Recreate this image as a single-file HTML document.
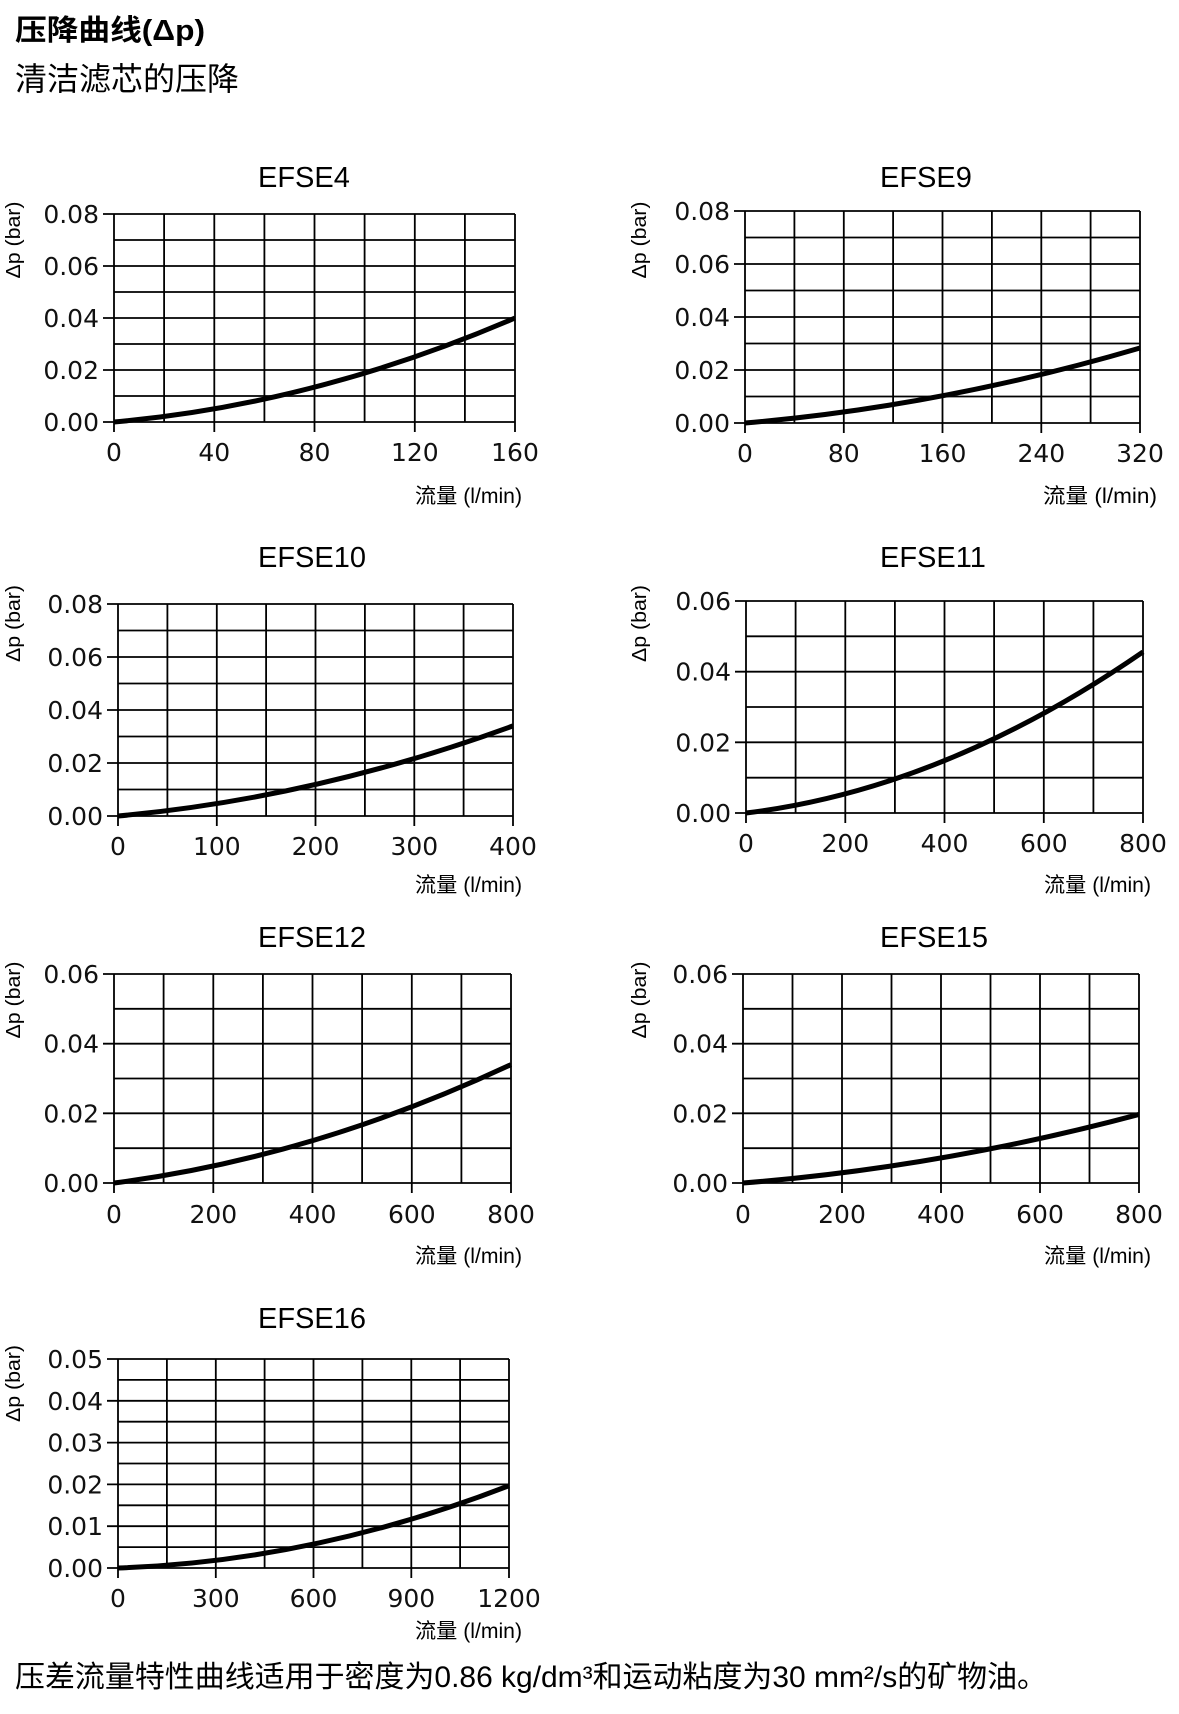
<!DOCTYPE html>
<html>
<head>
<meta charset="utf-8">
<style>
html,body{margin:0;padding:0;background:#fff;}
svg{display:block;}
.t{font-family:"Liberation Sans",sans-serif;font-size:29px;fill:#000;}
.n{font-family:"DejaVu Sans",sans-serif;font-size:25px;fill:#111;}
.a{font-family:"Liberation Sans",sans-serif;font-size:20px;fill:#000;}
.q{font-family:"Liberation Sans","Noto Sans CJK SC",sans-serif;font-size:21px;fill:#000;}
.g{fill:none;stroke:#000;stroke-width:1.8;}
.c{fill:none;stroke:#000;stroke-width:5;}
</style>
</head>
<body>
<svg width="1179" height="1714" viewBox="0 0 1179 1714" xmlns="http://www.w3.org/2000/svg">
<rect width="1179" height="1714" fill="#fff"/>

<!-- Header -->
<text x="15" y="40" font-family="Liberation Sans, Noto Sans CJK SC, sans-serif" font-size="29" font-weight="bold" textLength="190" lengthAdjust="spacingAndGlyphs">压降曲线(Δp)</text>
<text x="15" y="90" font-family="Liberation Sans, Noto Sans CJK SC, sans-serif" font-size="32">清洁滤芯的压降</text>

<!-- ===== EFSE4 ===== -->
<text class="t" x="258" y="187">EFSE4</text>
<path class="g" d="M114 214V432M164.1 214V422M214.3 214V432M264.4 214V422M314.5 214V432M364.6 214V422M414.8 214V432M464.9 214V422M515 214V432M103 214H515M114 240H515M103 266H515M114 292H515M103 318H515M114 344H515M103 370H515M114 396H515M103 422H515"/>
<path class="c" d="M114 422Q314.5 404.3 515 318"/>
<g class="n" text-anchor="end">
<text x="99" y="223">0.08</text><text x="99" y="275">0.06</text><text x="99" y="327">0.04</text><text x="99" y="379">0.02</text><text x="99" y="431">0.00</text>
</g>
<g class="n" text-anchor="middle">
<text x="114" y="461">0</text><text x="214.3" y="461">40</text><text x="314.5" y="461">80</text><text x="414.8" y="461">120</text><text x="515" y="461">160</text>
</g>
<text class="a" transform="translate(20,240) rotate(-90)" text-anchor="middle" textLength="77" lengthAdjust="spacingAndGlyphs">Δp (bar)</text>
<text class="q" x="415" y="503" textLength="107" lengthAdjust="spacingAndGlyphs">流量 (l/min)</text>

<!-- ===== EFSE9 ===== -->
<text class="t" x="880" y="187">EFSE9</text>
<path class="g" d="M745 211V433M794.4 211V423M843.8 211V433M893.1 211V423M942.5 211V433M991.9 211V423M1041.3 211V433M1090.6 211V423M1140 211V433M734 211H1140M745 237.5H1140M734 264H1140M745 290.5H1140M734 317H1140M745 343.5H1140M734 370H1140M745 396.5H1140M734 423H1140"/>
<path class="c" d="M745 423Q942.5 406.1 1140 348"/>
<g class="n" text-anchor="end">
<text x="730" y="220">0.08</text><text x="730" y="273">0.06</text><text x="730" y="326">0.04</text><text x="730" y="379">0.02</text><text x="730" y="432">0.00</text>
</g>
<g class="n" text-anchor="middle">
<text x="745" y="462">0</text><text x="843.8" y="462">80</text><text x="942.5" y="462">160</text><text x="1041.3" y="462">240</text><text x="1140" y="462">320</text>
</g>
<text class="a" transform="translate(646,240) rotate(-90)" text-anchor="middle" textLength="77" lengthAdjust="spacingAndGlyphs">Δp (bar)</text>
<text class="q" x="1043" y="503" textLength="114" lengthAdjust="spacingAndGlyphs">流量  (l/min)</text>

<!-- ===== EFSE10 ===== -->
<text class="t" x="258" y="567">EFSE10</text>
<path class="g" d="M118 604V826M167.4 604V816M216.8 604V826M266.1 604V816M315.5 604V826M364.9 604V816M414.3 604V826M463.6 604V816M513 604V826M107 604H513M118 630.5H513M107 657H513M118 683.5H513M107 710H513M118 736.5H513M107 763H513M118 789.5H513M107 816H513"/>
<path class="c" d="M118 816Q315.5 798 513 725.9"/>
<g class="n" text-anchor="end">
<text x="103" y="613">0.08</text><text x="103" y="666">0.06</text><text x="103" y="719">0.04</text><text x="103" y="772">0.02</text><text x="103" y="825">0.00</text>
</g>
<g class="n" text-anchor="middle">
<text x="118" y="855">0</text><text x="216.8" y="855">100</text><text x="315.5" y="855">200</text><text x="414.3" y="855">300</text><text x="513" y="855">400</text>
</g>
<text class="a" transform="translate(20,623.5) rotate(-90)" text-anchor="middle" textLength="77" lengthAdjust="spacingAndGlyphs">Δp (bar)</text>
<text class="q" x="415" y="892" textLength="107" lengthAdjust="spacingAndGlyphs">流量 (l/min)</text>

<!-- ===== EFSE11 ===== -->
<text class="t" x="880" y="567">EFSE11</text>
<path class="g" d="M746 601V823M795.6 601V813M845.3 601V823M894.9 601V813M944.5 601V823M994.1 601V813M1043.8 601V823M1093.4 601V813M1143 601V823M735 601H1143M746 636.3H1143M735 671.7H1143M746 707H1143M735 742.3H1143M746 777.7H1143M735 813H1143"/>
<path class="c" d="M746 813Q944.5 788.8 1143 651.9"/>
<g class="n" text-anchor="end">
<text x="731" y="610">0.06</text><text x="731" y="680.7">0.04</text><text x="731" y="751.3">0.02</text><text x="731" y="822">0.00</text>
</g>
<g class="n" text-anchor="middle">
<text x="746" y="852">0</text><text x="845.3" y="852">200</text><text x="944.5" y="852">400</text><text x="1043.8" y="852">600</text><text x="1143" y="852">800</text>
</g>
<text class="a" transform="translate(646,623.5) rotate(-90)" text-anchor="middle" textLength="77" lengthAdjust="spacingAndGlyphs">Δp (bar)</text>
<text class="q" x="1044" y="892" textLength="107" lengthAdjust="spacingAndGlyphs">流量 (l/min)</text>

<!-- ===== EFSE12 ===== -->
<text class="t" x="258" y="947">EFSE12</text>
<path class="g" d="M114 974V1193M163.6 974V1183M213.3 974V1193M262.9 974V1183M312.5 974V1193M362.1 974V1183M411.8 974V1193M461.4 974V1183M511 974V1193M103 974H511M114 1008.8H511M103 1043.7H511M114 1078.5H511M103 1113.3H511M114 1148.2H511M103 1183H511"/>
<path class="c" d="M114 1183Q312.5 1157.5 511 1064.6"/>
<g class="n" text-anchor="end">
<text x="99" y="983">0.06</text><text x="99" y="1052.7">0.04</text><text x="99" y="1122.3">0.02</text><text x="99" y="1192">0.00</text>
</g>
<g class="n" text-anchor="middle">
<text x="114" y="1223">0</text><text x="213.3" y="1223">200</text><text x="312.5" y="1223">400</text><text x="411.8" y="1223">600</text><text x="511" y="1223">800</text>
</g>
<text class="a" transform="translate(20,1000) rotate(-90)" text-anchor="middle" textLength="77" lengthAdjust="spacingAndGlyphs">Δp (bar)</text>
<text class="q" x="415" y="1263" textLength="107" lengthAdjust="spacingAndGlyphs">流量 (l/min)</text>

<!-- ===== EFSE15 ===== -->
<text class="t" x="880" y="947">EFSE15</text>
<path class="g" d="M743 974V1193M792.5 974V1183M842 974V1193M891.5 974V1183M941 974V1193M990.5 974V1183M1040 974V1193M1089.5 974V1183M1139 974V1193M732 974H1139M743 1008.8H1139M732 1043.7H1139M743 1078.5H1139M732 1113.3H1139M743 1148.2H1139M732 1183H1139"/>
<path class="c" d="M743 1183Q941 1167.2 1139 1114.4"/>
<g class="n" text-anchor="end">
<text x="728" y="983">0.06</text><text x="728" y="1052.7">0.04</text><text x="728" y="1122.3">0.02</text><text x="728" y="1192">0.00</text>
</g>
<g class="n" text-anchor="middle">
<text x="743" y="1223">0</text><text x="842" y="1223">200</text><text x="941" y="1223">400</text><text x="1040" y="1223">600</text><text x="1139" y="1223">800</text>
</g>
<text class="a" transform="translate(646,1000) rotate(-90)" text-anchor="middle" textLength="77" lengthAdjust="spacingAndGlyphs">Δp (bar)</text>
<text class="q" x="1044" y="1263" textLength="107" lengthAdjust="spacingAndGlyphs">流量 (l/min)</text>

<!-- ===== EFSE16 ===== -->
<text class="t" x="258" y="1328">EFSE16</text>
<path class="g" d="M118 1359V1578M166.9 1359V1568M215.8 1359V1578M264.6 1359V1568M313.5 1359V1578M362.4 1359V1568M411.3 1359V1578M460.1 1359V1568M509 1359V1578M107 1359H509M118 1379.9H509M107 1400.8H509M118 1421.7H509M107 1442.6H509M118 1463.5H509M107 1484.4H509M118 1505.3H509M107 1526.2H509M118 1547.1H509M107 1568H509"/>
<path class="c" d="M118 1568Q313.5 1561.4 509 1485.7"/>
<g class="n" text-anchor="end">
<text x="103" y="1368">0.05</text><text x="103" y="1409.8">0.04</text><text x="103" y="1451.6">0.03</text><text x="103" y="1493.4">0.02</text><text x="103" y="1535.2">0.01</text><text x="103" y="1577">0.00</text>
</g>
<g class="n" text-anchor="middle">
<text x="118" y="1607">0</text><text x="215.8" y="1607">300</text><text x="313.5" y="1607">600</text><text x="411.3" y="1607">900</text><text x="509" y="1607">1200</text>
</g>
<text class="a" transform="translate(20,1383.5) rotate(-90)" text-anchor="middle" textLength="77" lengthAdjust="spacingAndGlyphs">Δp (bar)</text>
<text class="q" x="415" y="1638" textLength="107" lengthAdjust="spacingAndGlyphs">流量 (l/min)</text>

<!-- Footer -->
<text x="15" y="1687" font-family="Liberation Sans, Noto Sans CJK SC, sans-serif" font-size="30" textLength="1032" lengthAdjust="spacingAndGlyphs">压差流量特性曲线适用于密度为0.86 kg/dm³和运动粘度为30 mm²/s的矿物油。</text>
</svg>
</body>
</html>
